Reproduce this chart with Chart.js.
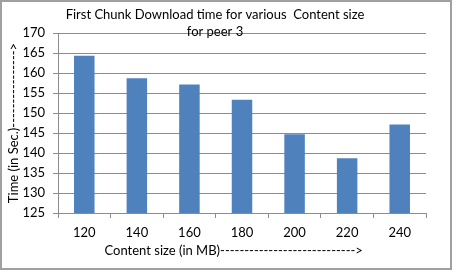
<!DOCTYPE html>
<html>
<head>
<meta charset="utf-8">
<script src="https://cdn.jsdelivr.net/npm/chart.js@4"></script>
<style>
  html, body { margin: 0; padding: 0; background: #fff; }
  #wrap { width: 456px; height: 272px; position: relative; }
</style>
</head>
<body>
<div id="wrap"><canvas id="chart" width="456" height="272"></canvas></div>
<script>
const categories = ['120', '140', '160', '180', '200', '220', '240'];
const downloadTimes = [164.3, 158.7, 157.1, 153.3, 144.7, 138.7, 147.1];
const titleLines = ['First Chunk Download time for various  Content size', 'for peer 3'];
const xTitle = 'Content size (in MB)---------------------------->     ';
const yTitle = 'Time (in Sec.)---------------->';

const FONT = 'Lato';
const GRID = '#8c8c8c';

// frame + title drawn on top, title overlaps the plot like the original
const framePlugin = {
  id: 'frame',
  afterDraw(chart) {
    const ctx = chart.ctx;
    ctx.save();
    ctx.strokeStyle = '#a0a0a0';
    ctx.lineWidth = 2;
    ctx.strokeRect(1, 1, 450, 268);
    ctx.fillStyle = '#000';
    ctx.font = '13px ' + FONT;
    ctx.textAlign = 'center';
    ctx.textBaseline = 'middle';
    ctx.fillText(titleLines[0], 215, 15);
    ctx.fillText(titleLines[1], 215, 32);
    ctx.restore();
  }
};

new Chart(document.getElementById('chart'), {
  type: 'bar',
  data: {
    labels: categories,
    datasets: [{
      data: downloadTimes,
      backgroundColor: '#4f81bd',
      borderWidth: 0,
      barPercentage: 0.39,
      categoryPercentage: 1
    }]
  },
  options: {
    responsive: false,
    animation: false,
    layout: { padding: { top: 33, right: 30, left: 0, bottom: 0 } },
    plugins: { legend: { display: false }, tooltip: { enabled: false } },
    scales: {
      x: {
        afterFit: s => { s.height = 59 },
        grid: { drawOnChartArea: false, color: GRID, tickLength: 5, offset: true },
        border: { color: GRID },
        ticks: { color: '#000', font: { family: FONT, size: 13 }, padding: 7, maxRotation: 0 },
        title: { display: true, text: xTitle, color: '#000', font: { family: FONT, size: 13 }, padding: { top: 0, bottom: 13 } }
      },
      y: {
        min: 125,
        max: 170,
        afterFit: s => { s.width = 58 },
        grid: { color: GRID, tickLength: 5 },
        border: { color: GRID },
        ticks: { stepSize: 5, color: '#000', font: { family: FONT, size: 13 }, padding: 8 },
        title: { display: true, text: yTitle, color: '#000', font: { family: FONT, size: 13 }, padding: { top: 6, bottom: 0 } }
      }
    }
  },
  plugins: [framePlugin]
});
</script>
</body>
</html>
